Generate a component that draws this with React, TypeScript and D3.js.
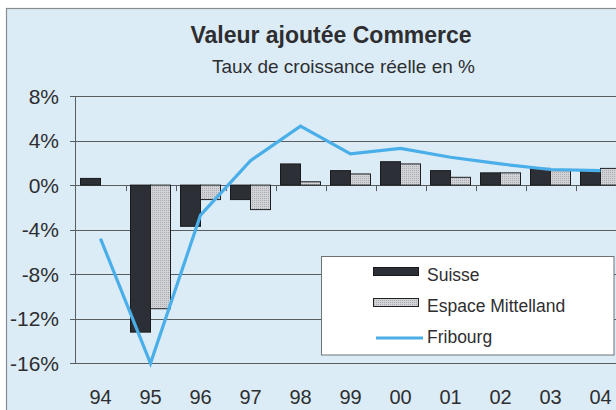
import React from "react";
import * as d3 from "d3";

const years = ["94", "95", "96", "97", "98", "99", "00", "01", "02", "03", "04"];
const suisse = [0.6, -13.2, -3.7, -1.3, 1.9, 1.3, 2.1, 1.3, 1.1, 1.5, 1.4];
const espaceMittelland: (number | null)[] = [null, -11.1, -1.3, -2.2, 0.3, 1.0, 1.9, 0.7, 1.1, 1.3, 1.5];
const fribourg = [-4.8, -16.0, -2.7, 2.2, 5.3, 2.8, 3.3, 2.5, 1.9, 1.4, 1.3];
const yTicks = [8, 4, 0, -4, -8, -12, -16];
const seriesNames = ["Suisse", "Espace Mittelland", "Fribourg"];

const W = 616;
const H = 410;
const FONT = "'Liberation Sans', Arial, Helvetica, sans-serif";

export default function App() {
  const x = d3.scaleBand<string>().domain(years).range([75.5, 625.5]).paddingInner(0).paddingOuter(0);
  const sub = d3.scaleBand<string>().domain(["s", "e"]).range([5, 45]);
  const y = d3.scaleLinear().domain([-16, 8]).range([363.3, 96]);
  const y0 = y(0);
  const line = d3
    .line<number>()
    .x((_, i) => (x(years[i]) as number) + x.bandwidth() / 2)
    .y((d) => y(d));

  const textColor = "#2e2e30";
  const gridColor = "#5a5d60";

  return (
    <svg
      width={W}
      height={H}
      style={{ position: "fixed", left: 0, top: 0, display: "block" }}
      fontFamily={FONT}
    >
      <defs>
        <pattern id="dots" width="2" height="2" patternUnits="userSpaceOnUse">
          <rect width="2" height="2" fill="#d2d3d6" />
          <rect width="1" height="1" fill="#a9abb0" />
        </pattern>
      </defs>
      <rect x={0} y={0} width={W} height={H} fill="#ffffff" />
      <rect x={6.5} y={8.5} width={W + 20} height={H + 20} fill="#dbecf7" stroke="#8a8d90" strokeWidth={1.2} />

      <text x={331} y={43} textAnchor="middle" fontSize={23} fontWeight="bold" fill={textColor}>
        Valeur ajoutée Commerce
      </text>
      <text x={343.5} y={73} textAnchor="middle" fontSize={19} fill={textColor}>
        Taux de croissance réelle en %
      </text>

      {/* gridlines */}
      {yTicks.map((t) => (
        <g key={t}>
          <line x1={70} x2={W} y1={Math.round(y(t)) + 0.5} y2={Math.round(y(t)) + 0.5} stroke={gridColor} strokeWidth={1} />
          <text x={59} y={y(t)} dy="0.36em" textAnchor="end" fontSize={21} fill={textColor}>
            {t}%
          </text>
        </g>
      ))}
      <line x1={75.5} x2={75.5} y1={y(8)} y2={y(-16)} stroke={gridColor} strokeWidth={1} />

      {/* category ticks on zero line */}
      {years.slice(1).map((yr) => (
        <line
          key={yr}
          x1={Math.round(x(yr) as number) + 0.5}
          x2={Math.round(x(yr) as number) + 0.5}
          y1={y0}
          y2={y0 + 6}
          stroke={gridColor}
          strokeWidth={1}
        />
      ))}

      {/* bars */}
      {years.map((yr, i) => {
        const bx = x(yr) as number;
        const s = suisse[i];
        const e = espaceMittelland[i];
        return (
          <g key={yr}>
            <rect
              x={bx + (sub("s") as number)}
              y={Math.min(y(s), y0)}
              width={sub.bandwidth()}
              height={Math.abs(y(s) - y0)}
              fill="#2c2f35"
              stroke="#1a1a1d"
              strokeWidth={1}
            />
            {e !== null && (
              <rect
                x={bx + (sub("e") as number)}
                y={Math.min(y(e), y0)}
                width={sub.bandwidth()}
                height={Math.abs(y(e) - y0)}
                fill="url(#dots)"
                stroke="#1f1f22"
                strokeWidth={1}
              />
            )}
          </g>
        );
      })}

      {/* Fribourg line */}
      <path d={line(fribourg) || ""} fill="none" stroke="#4aaee8" strokeWidth={3.2} strokeLinejoin="miter" />

      {/* x labels */}
      {years.map((yr) => (
        <text
          key={yr}
          x={(x(yr) as number) + x.bandwidth() / 2}
          y={404}
          textAnchor="middle"
          fontSize={20}
          fill={textColor}
        >
          {yr}
        </text>
      ))}

      {/* legend */}
      <rect x={321.5} y={256.5} width={292.5} height={98.5} fill="#ffffff" stroke="#6f7275" strokeWidth={1} />
      <rect x={373.5} y={267.5} width={45} height={8} fill="#2c2f35" stroke="#1a1a1d" strokeWidth={1} />
      <text x={427} y={281} fontSize={17.5} fill={textColor}>
        {seriesNames[0]}
      </text>
      <rect x={373.5} y={298.5} width={45} height={8} fill="url(#dots)" stroke="#1f1f22" strokeWidth={1} />
      <text x={427} y={312} fontSize={17.5} fill={textColor}>
        {seriesNames[1]}
      </text>
      <line x1={376} x2={423} y1={338} y2={338} stroke="#4aaee8" strokeWidth={3.2} />
      <text x={427} y={343} fontSize={17.5} fill={textColor}>
        {seriesNames[2]}
      </text>
    </svg>
  );
}
